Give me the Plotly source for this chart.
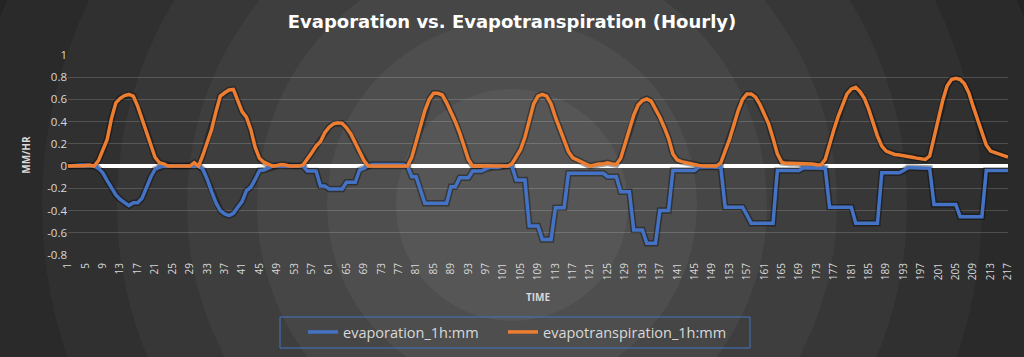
import plotly.graph_objects as go

# ---------------- data ----------------
hours = list(range(1, 218))

evapotranspiration = [
    0, 0, 0, 0, 0.005, 0.01, 0.0, 0.05, 0.14, 0.24,
    0.43, 0.57, 0.61, 0.635, 0.645, 0.63, 0.54, 0.43, 0.32, 0.19,
    0.08, 0.03, 0.02, 0.0, 0, 0, 0, 0, 0, 0.03,
    0.0, 0.1, 0.22, 0.33, 0.49, 0.63, 0.66, 0.685, 0.69, 0.58,
    0.49, 0.44, 0.33, 0.17, 0.07, 0.035, 0.015, 0, 0.005, 0.015,
    0.01, 0, 0, 0, 0.01, 0.06, 0.12, 0.18, 0.22, 0.30,
    0.35, 0.38, 0.39, 0.385, 0.345, 0.29, 0.21, 0.13, 0.05, 0.0,
    0, 0, 0, 0, 0, 0, 0, 0, 0, 0.08,
    0.22, 0.35, 0.50, 0.60, 0.655, 0.655, 0.64, 0.57, 0.49, 0.40,
    0.30, 0.19, 0.06, 0, 0, 0, 0, 0, 0, 0,
    0, 0, 0.02, 0.08, 0.15, 0.26, 0.40, 0.56, 0.63, 0.645,
    0.63, 0.56, 0.44, 0.33, 0.22, 0.13, 0.075, 0.055, 0.04, 0.015,
    0.0, 0.01, 0.02, 0.02, 0.03, 0.02, 0.015, 0.07, 0.19, 0.33,
    0.46, 0.55, 0.59, 0.605, 0.585, 0.52, 0.44, 0.35, 0.25, 0.11,
    0.055, 0.04, 0.03, 0.02, 0.015, 0.005, 0, 0, 0, 0,
    0.03, 0.13, 0.24, 0.37, 0.50, 0.60, 0.65, 0.65, 0.62, 0.555,
    0.47, 0.38, 0.25, 0.11, 0.035, 0.025, 0.025, 0.025, 0.025, 0.025,
    0.025, 0.02, 0.012, 0.01, 0.06, 0.20, 0.33, 0.45, 0.55, 0.65,
    0.695, 0.71, 0.67, 0.61, 0.51, 0.39, 0.27, 0.18, 0.135, 0.12,
    0.105, 0.10, 0.095, 0.09, 0.08, 0.072, 0.066, 0.06, 0.09, 0.26,
    0.44, 0.59, 0.72, 0.78, 0.79, 0.78, 0.74, 0.66, 0.535, 0.42,
    0.29, 0.19, 0.135, 0.12, 0.11, 0.095, 0.08,
]

evaporation = [
    0, 0.005, 0.01, 0.01, 0.01, 0.005, 0, -0.02, -0.06, -0.13,
    -0.2, -0.26, -0.3, -0.33, -0.355, -0.33, -0.33, -0.29, -0.19, -0.1,
    -0.03, -0.01, 0, 0, 0, 0, 0, 0, 0, 0,
    0, -0.03, -0.12, -0.23, -0.33, -0.40, -0.43, -0.445, -0.425, -0.37,
    -0.32, -0.22, -0.19, -0.12, -0.04, -0.035, -0.02, 0, 0, 0,
    0, 0, 0, 0, 0, -0.045, -0.045, -0.045, -0.18, -0.18,
    -0.205, -0.205, -0.205, -0.205, -0.145, -0.145, -0.145, -0.035, -0.02, 0.005,
    0.015, 0.015, 0.015, 0.015, 0.015, 0.015, 0.015, 0.015, 0, -0.095,
    -0.095, -0.21, -0.335, -0.335, -0.335, -0.335, -0.335, -0.335, -0.185, -0.185,
    -0.105, -0.105, -0.105, -0.045, -0.045, -0.045, -0.025, -0.01, -0.01, -0.01,
    0, 0, 0, -0.125, -0.125, -0.125, -0.54, -0.54, -0.54, -0.66,
    -0.66, -0.66, -0.375, -0.375, -0.375, -0.065, -0.065, -0.065, -0.065, -0.065,
    -0.065, -0.065, -0.065, -0.065, -0.095, -0.095, -0.095, -0.23, -0.23, -0.23,
    -0.575, -0.575, -0.575, -0.695, -0.695, -0.695, -0.40, -0.40, -0.40, -0.04,
    -0.04, -0.04, -0.04, -0.04, -0.04, -0.005, -0.005, -0.005, -0.005, -0.005,
    -0.01, -0.37, -0.37, -0.37, -0.37, -0.37, -0.44, -0.515, -0.515, -0.515,
    -0.515, -0.515, -0.515, -0.04, -0.04, -0.04, -0.04, -0.04, -0.04, -0.015,
    -0.015, -0.015, -0.015, -0.015, -0.02, -0.37, -0.37, -0.37, -0.37, -0.37,
    -0.37, -0.515, -0.515, -0.515, -0.515, -0.515, -0.515, -0.06, -0.06, -0.06,
    -0.06, -0.06, -0.04, -0.015, -0.015, -0.015, -0.015, -0.015, -0.02, -0.345,
    -0.345, -0.345, -0.345, -0.345, -0.345, -0.455, -0.455, -0.455, -0.455, -0.455,
    -0.455, -0.04, -0.04, -0.04, -0.04, -0.04, -0.04,
]

x_tick_vals = list(range(1, 218, 4))
x_tick_text = [str(v) for v in x_tick_vals]
y_tick_vals = [-0.8, -0.6, -0.4, -0.2, 0, 0.2, 0.4, 0.6, 0.8, 1.0]
y_tick_text = ["-0.8", "-0.6", "-0.4", "-0.2", "0", "0.2", "0.4", "0.6", "0.8", "1"]

# ---------------- style ----------------
BLUE = "#4472C4"
ORANGE = "#ED7D31"
TXT = "#d9d9d9"
FONT = "Open Sans, Noto Sans, sans-serif"

W, H = 1024, 357
ML, MR, MT, MB = 68, 16, 55, 102
pw, ph = W - ML - MR, H - MT - MB


def px_x(px):
    return (px - ML) / pw


def px_y(py):
    return (H - MB - py) / ph


fig = go.Figure()

# soft shadows under the lines
for series in (evaporation, evapotranspiration):
    fig.add_trace(go.Scatter(
        x=hours, y=series, mode="lines",
        line=dict(color="rgba(0,0,0,0.35)", width=6.5),
        hoverinfo="skip", showlegend=False,
    ))

fig.add_trace(go.Scatter(
    x=hours, y=evaporation, mode="lines", name="evaporation_1h:mm",
    line=dict(color=BLUE, width=3.5), legend="legend",
))
fig.add_trace(go.Scatter(
    x=hours, y=evapotranspiration, mode="lines", name="evapotranspiration_1h:mm",
    line=dict(color=ORANGE, width=3.5), legend="legend2",
))

# radial background (concentric rings)
cx, cy = px_x(512), px_y(205)
rings = [(640, "#242424"), (545, "#2a2a2a"), (470, "#303030"), (395, "#373737"),
         (325, "#3e3e3e"), (255, "#464646"), (185, "#4e4e4e"), (116, "#565656")]
shapes = []
for r, c in rings:
    shapes.append(dict(
        type="circle", xref="paper", yref="paper",
        xsizemode="pixel", ysizemode="pixel", xanchor=cx, yanchor=cy,
        x0=-r, x1=r, y0=-r, y1=r,
        fillcolor=c, line=dict(width=0), layer="below",
    ))

# legend frame
shapes.append(dict(
    type="rect", xref="paper", yref="paper",
    x0=px_x(280), x1=px_x(750), y0=px_y(348), y1=px_y(317),
    line=dict(color=BLUE, width=1), fillcolor="rgba(0,0,0,0)", layer="above",
))

legend_common = dict(
    orientation="h", xanchor="left",
    xref="container", yref="container", y=(H - 332) / H, yanchor="middle",
    borderwidth=0, bgcolor="rgba(0,0,0,0)",
    font=dict(size=14.5, color=TXT, family=FONT),
    itemwidth=30,
)

fig.update_layout(
    width=W, height=H,
    margin=dict(l=ML, r=MR, t=MT, b=MB, autoexpand=False),
    paper_bgcolor="#1f1f1f",
    plot_bgcolor="rgba(0,0,0,0)",
    shapes=shapes,
    font=dict(family=FONT, color=TXT),
    title=dict(
        text="<b>Evaporation vs. Evapotranspiration (Hourly)</b>",
        font=dict(size=18, color="white", family="DejaVu Sans, sans-serif"),
        x=0.5, xref="container", xanchor="center",
        y=1 - 22 / H, yref="container", yanchor="middle",
    ),
    showlegend=True,
    legend=dict(x=303 / W, **legend_common),
    legend2=dict(x=503 / W, **legend_common),
    xaxis=dict(
        range=[1, 217], automargin=False,
        tickmode="array", tickvals=x_tick_vals, ticktext=x_tick_text,
        tickangle=-90, tickfont=dict(size=10, color=TXT),
        showgrid=False, zeroline=False, showline=False,
        ticks="outside", ticklen=3, tickcolor="rgba(0,0,0,0)",
        title=dict(text="<b>TIME</b>", font=dict(size=10, color=TXT), standoff=14),
    ),
    yaxis=dict(
        range=[-0.8, 1.0], automargin=False,
        tickmode="array", tickvals=y_tick_vals, ticktext=y_tick_text,
        tickfont=dict(size=11.5, color=TXT),
        showgrid=True, gridcolor="rgba(255,255,255,0.17)", gridwidth=1,
        zeroline=True, zerolinecolor="white", zerolinewidth=3.5,
        showline=False, ticks="",
        title=dict(text="<b>MM/HR</b>", font=dict(size=10, color=TXT), standoff=14),
    ),
)

fig.write_html(
    "out.html",
    config={"displayModeBar": False},
    post_script="document.body.style.margin='0px';",
)
